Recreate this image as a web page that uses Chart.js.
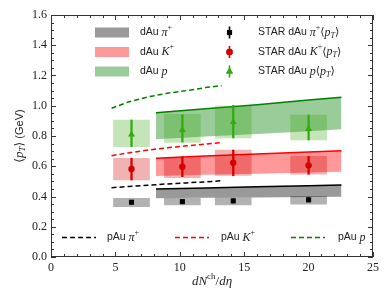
<!DOCTYPE html>
<html><head><meta charset="utf-8">
<script src="https://cdn.jsdelivr.net/npm/chart.js@4.4.0/dist/chart.umd.min.js"></script>
<style>html,body{margin:0;padding:0;background:#fff}canvas{display:block}</style>
</head><body>
<canvas id="c" width="390" height="293"></canvas>
<script>
// ---- STAR dAu measurements ----
const starX = [6.25, 10.2, 14.15, 20.0];
const starPi = [0.362, 0.366, 0.371, 0.378];
const starPiErrLo = [0.350, 0.354, 0.358, 0.365];
const starPiErrHi = [0.374, 0.378, 0.384, 0.391];
const starPiSysLo = [0.333, 0.345, 0.345, 0.349];
const starPiSysHi = [0.388, 0.388, 0.392, 0.401];
const starK = [0.582, 0.597, 0.623, 0.606];
const starKErrLo = [0.509, 0.531, 0.537, 0.547];
const starKErrHi = [0.653, 0.663, 0.707, 0.665];
const starKSysLo = [0.509, 0.524, 0.540, 0.547];
const starKSysHi = [0.653, 0.655, 0.707, 0.668];
const starP = [0.810, 0.840, 0.893, 0.846];
const starPErrLo = [0.729, 0.760, 0.787, 0.774];
const starPErrHi = [0.906, 0.940, 1.003, 0.939];
const starPSysLo = [0.729, 0.758, 0.787, 0.774];
const starPSysHi = [0.906, 0.943, 0.997, 0.939];

// ---- dAu model bands ----
const bandX = [8.15, 12, 16, 20, 22.55];
const dAuPiHi = [0.450, 0.457, 0.464, 0.471, 0.476];
const dAuPiLo = [0.388, 0.391, 0.394, 0.397, 0.399];
const dAuKHi = [0.653, 0.667, 0.681, 0.694, 0.703];
const dAuKLo = [0.536, 0.544, 0.551, 0.559, 0.564];
const dAuPHi = [0.954, 0.980, 1.007, 1.038, 1.056];
const dAuPLo = [0.778, 0.796, 0.814, 0.832, 0.844];

// ---- pAu model curves ----
const pAuX = [4.7, 6, 7.5, 9, 10.5, 12, 13.25];
const pAuPi = [0.458, 0.466, 0.474, 0.483, 0.490, 0.497, 0.504];
const pAuK = [0.670, 0.688, 0.707, 0.722, 0.735, 0.747, 0.757];
const pAuP = [0.983, 1.025, 1.058, 1.082, 1.100, 1.120, 1.133];

// ---- ticks ----
const xTickValues = [0, 5, 10, 15, 20, 25];
const xTickLabels = ['0', '5', '10', '15', '20', '25'];
const yTickValues = [0.0, 0.2, 0.4, 0.6, 0.8, 1.0, 1.2, 1.4, 1.6];
const yTickLabels = ['0.0', '0.2', '0.4', '0.6', '0.8', '1.0', '1.2', '1.4', '1.6'];

const SANS = '"Liberation Sans", Arial, sans-serif';
const SERIF = '"Liberation Serif", "Times New Roman", serif';
const DSERIF = '"DejaVu Serif", serif';

const C = {
  piBand: 'rgba(0,0,0,0.4)', kBand: 'rgba(255,0,0,0.4)', pBand: 'rgba(0,128,0,0.4)',
  piLine: '#000000', kLine: '#ff0000', pLine: '#008000',
  piBox: 'rgba(0,0,0,0.3)', kBox: 'rgba(210,0,0,0.3)', pBox: 'rgba(60,170,20,0.3)',
  piMk: '#000000', kMk: '#d40000', pMk: '#33aa11',
  piDash: '#000000', kDash: '#ff0000', pDash: '#008000'
};

const pts = (xs, ys) => xs.map((x, i) => ({x: x, y: ys[i]}));
const rng = (xs, lo, hi) => xs.map((x, i) => ({x: x, y: [lo[i], hi[i]]}));

function band(lo, hi, fillCol, lineCol) {
  return [
    {type: 'line', data: pts(bandX, lo), borderWidth: 0, pointRadius: 0, fill: false, order: 10, borderColor: 'rgba(0,0,0,0)'},
    {type: 'line', data: pts(bandX, hi), borderWidth: 1.5, borderColor: lineCol, backgroundColor: fillCol, pointRadius: 0, fill: '-1', order: 9}
  ];
}
function box(lo, hi, col) {
  return {type: 'bar', data: rng(starX, lo, hi), backgroundColor: col, barThickness: 36, grouped: false, borderWidth: 0, order: 8};
}
function err(lo, hi, col) {
  return {type: 'bar', data: rng(starX, lo, hi), backgroundColor: col, barThickness: 1.6, grouped: false, borderWidth: 0, order: 2};
}
function dash(ys, col) {
  return {type: 'line', data: pts(pAuX, ys), borderColor: col, borderWidth: 1.5, borderDash: [5, 3], pointRadius: 0, fill: false, order: 5};
}
function marker(ys, col, style, r) {
  return {type: 'line', data: pts(starX, ys), showLine: false, pointStyle: style, pointRadius: r, pointBackgroundColor: col, pointBorderColor: col, pointBorderWidth: 0, order: 1};
}

const datasets = [
  ...band(dAuPiLo, dAuPiHi, C.piBand, C.piLine),
  ...band(dAuKLo, dAuKHi, C.kBand, C.kLine),
  ...band(dAuPLo, dAuPHi, C.pBand, C.pLine),
  box(starPiSysLo, starPiSysHi, C.piBox),
  box(starKSysLo, starKSysHi, C.kBox),
  box(starPSysLo, starPSysHi, C.pBox),
  dash(pAuPi, C.piDash), dash(pAuK, C.kDash), dash(pAuP, C.pDash),
  err(starPiErrLo, starPiErrHi, C.piMk),
  err(starKErrLo, starKErrHi, C.kMk),
  err(starPErrLo, starPErrHi, C.pMk),
  marker(starPi, C.piMk, 'rect', 3.6),
  marker(starK, C.kMk, 'circle', 3.2),
  marker(starP, C.pMk, 'triangle', 4)
];

function drawRich(ctx, x, y, segs, align) {
  let w = 0;
  segs.forEach(s => { ctx.font = s.f; s.w = ctx.measureText(s.t).width; w += s.w; });
  let cx = align === 'center' ? x - w / 2 : x;
  ctx.textBaseline = 'middle';
  ctx.textAlign = 'left';
  segs.forEach(s => { ctx.font = s.f; ctx.fillText(s.t, cx, y + (s.dy || 0)); cx += s.w; });
}

const it = (px) => 'italic ' + px + 'px ' + SERIF;
const rm = (px) => px + 'px ' + SERIF;
const sn = (px) => px + 'px ' + SANS;

const decor = {
  id: 'decor',
  beforeDraw(chart) {
    const ctx = chart.ctx;
    ctx.save(); ctx.fillStyle = '#fff'; ctx.fillRect(0, 0, chart.width, chart.height); ctx.restore();
  },
  afterDraw(chart) {
    const ctx = chart.ctx, a = chart.chartArea, xs = chart.scales.x, ys = chart.scales.y;
    ctx.save();
    // frame
    ctx.strokeStyle = '#333'; ctx.lineWidth = 1;
    ctx.strokeRect(Math.round(a.left) + 0.5, Math.round(a.top) + 0.5, Math.round(a.right - a.left) - 1, Math.round(a.bottom - a.top) - 1);
    // inward ticks
    ctx.beginPath();
    for (let v = 0; v <= 25.001; v += 1) {
      const px = Math.round(xs.getPixelForValue(v)) + 0.5;
      const L = (Math.abs(v % 5) < 1e-6) ? 5 : 3;
      ctx.moveTo(px, a.bottom); ctx.lineTo(px, a.bottom - L);
      ctx.moveTo(px, a.top); ctx.lineTo(px, a.top + L);
    }
    for (let k = 0; k <= 32; k++) {
      const v = k * 0.05;
      const py = Math.round(ys.getPixelForValue(v)) + 0.5;
      const L = (k % 4 === 0) ? 5 : 3;
      ctx.moveTo(a.left, py); ctx.lineTo(a.left + L, py);
      ctx.moveTo(a.right, py); ctx.lineTo(a.right - L, py);
    }
    ctx.stroke();

    ctx.fillStyle = '#222';
    // axis titles
    drawRich(ctx, (a.left + a.right) / 2, 282, [
      {t: 'dN', f: it(13)}, {t: 'ch', f: rm(9), dy: -5}, {t: '/', f: rm(13)}, {t: 'dη', f: it(13)}
    ], 'center');
    ctx.save();
    ctx.translate(20, (a.top + a.bottom) / 2);
    ctx.rotate(-Math.PI / 2);
    drawRich(ctx, 0, 0, [
      {t: '⟨', f: '12px ' + DSERIF}, {t: 'p', f: it(13)}, {t: 'T', f: it(9), dy: 3}, {t: '⟩', f: '12px ' + DSERIF},
      {t: ' (GeV)', f: sn(11)}
    ], 'center');
    ctx.restore();

    // top legend left column: dAu bands
    const rowsL = [32.5, 52, 71.5];
    const bandLeg = [
      {c: C.piBand, s: [{t: 'dAu ', f: sn(10.5)}, {t: 'π', f: it(12)}, {t: '+', f: rm(8), dy: -5}]},
      {c: C.kBand, s: [{t: 'dAu ', f: sn(10.5)}, {t: 'K', f: it(12)}, {t: '+', f: rm(8), dy: -5}]},
      {c: C.pBand, s: [{t: 'dAu ', f: sn(10.5)}, {t: 'p', f: it(12)}]}
    ];
    bandLeg.forEach((e, i) => {
      ctx.fillStyle = e.c; ctx.fillRect(95, rowsL[i] - 5, 34, 10);
      ctx.fillStyle = '#222'; drawRich(ctx, 140, rowsL[i], e.s, 'left');
    });
    // top legend right column: STAR markers
    const starLeg = [
      {c: C.piMk, m: 'rect', r: 3.6, s: 'π', sup: '+'},
      {c: C.kMk, m: 'circle', r: 3.2, s: 'K', sup: '+'},
      {c: C.pMk, m: 'triangle', r: 4, s: 'p', sup: ''}
    ];
    starLeg.forEach((e, i) => {
      const y = rowsL[i], x = 229.5;
      ctx.fillStyle = e.c;
      ctx.fillRect(x - 0.8, y - 6, 1.6, 12);
      Chart.helpers.drawPoint(ctx, {pointStyle: e.m, radius: e.r, borderWidth: 0}, x, y);
      ctx.fill();
      ctx.fillStyle = '#222';
      const segs = [{t: 'STAR dAu ', f: sn(10.5)}, {t: e.s, f: it(12)}];
      if (e.sup) segs.push({t: e.sup, f: rm(8), dy: -5});
      segs.push({t: '⟨', f: '11px ' + DSERIF}, {t: 'p', f: it(12)}, {t: 'T', f: it(8), dy: 3}, {t: '⟩', f: '11px ' + DSERIF});
      drawRich(ctx, 258, y, segs, 'left');
    });
    // bottom legend: pAu dashed
    const yB = 237.5;
    const pLeg = [
      {c: C.piDash, x0: 62, tx: 107, s: 'π', sup: '+'},
      {c: C.kDash, x0: 175, tx: 221, s: 'K', sup: '+'},
      {c: C.pDash, x0: 291, tx: 338, s: 'p', sup: ''}
    ];
    pLeg.forEach(e => {
      ctx.strokeStyle = e.c; ctx.lineWidth = 1.5; ctx.setLineDash([5, 3]);
      ctx.beginPath(); ctx.moveTo(e.x0, yB); ctx.lineTo(e.x0 + 34, yB); ctx.stroke();
      ctx.setLineDash([]);
      ctx.fillStyle = '#222';
      const segs = [{t: 'pAu ', f: sn(10.5)}, {t: e.s, f: it(12)}];
      if (e.sup) segs.push({t: e.sup, f: rm(8), dy: -5});
      drawRich(ctx, e.tx, yB, segs, 'left');
    });
    ctx.restore();
  }
};

new Chart(document.getElementById('c'), {
  type: 'line',
  data: {datasets: datasets},
  options: {
    responsive: false, animation: false, devicePixelRatio: 1,
    layout: {padding: {top: 15, right: 17, left: 0, bottom: 0}},
    plugins: {legend: {display: false}, tooltip: {enabled: false}},
    scales: {
      x: {
        type: 'linear', min: 0, max: 25, offset: false,
        grid: {display: false, drawTicks: false}, border: {display: false},
        afterBuildTicks: s => { s.ticks = xTickValues.map(v => ({value: v})); },
        ticks: {padding: 4, color: '#222', font: {family: SERIF, size: 12}, maxRotation: 0,
          callback: (v) => xTickLabels[xTickValues.indexOf(v)]},
        afterFit: s => { s.height = 36; }
      },
      y: {
        type: 'linear', min: 0, max: 1.6,
        grid: {display: false, drawTicks: false}, border: {display: false},
        afterBuildTicks: s => { s.ticks = yTickValues.map(v => ({value: v})); },
        ticks: {padding: 4, color: '#222', font: {family: SERIF, size: 12},
          callback: (v) => yTickLabels[yTickValues.findIndex(t => Math.abs(t - v) < 1e-9)]},
        afterFit: s => { s.width = 51; }
      }
    }
  },
  plugins: [decor]
});
</script>
</body></html>
